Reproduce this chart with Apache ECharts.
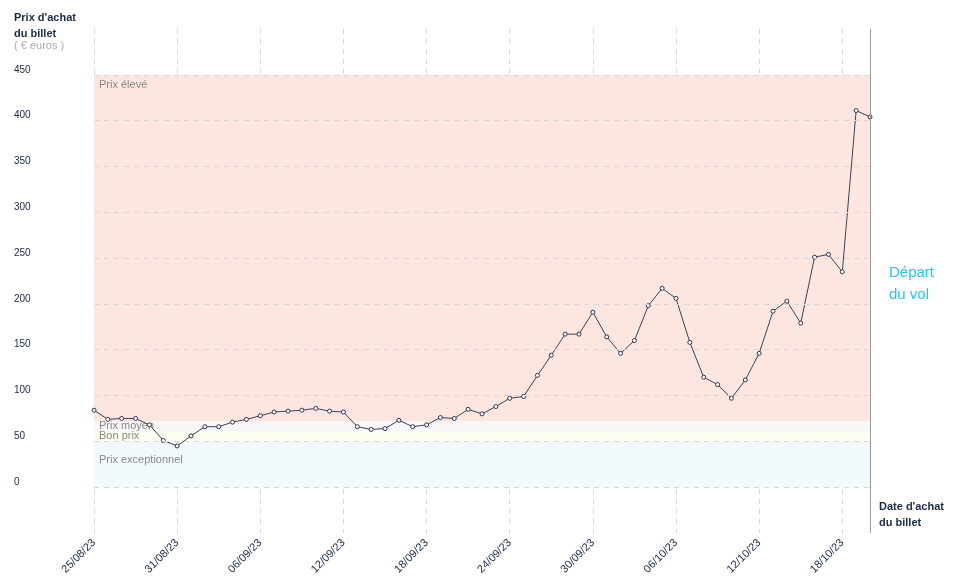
<!DOCTYPE html><html><head><meta charset="utf-8"><script src="https://cdn.jsdelivr.net/npm/echarts@6/dist/echarts.min.js"></script></head><body style="margin:0"><div id="c" style="width:958px;height:585px"></div><script>
const startDate=[2023,7,25];
const prices=[84,74,75,75,68,51,45,56,66,66,71,74,78,82,83,84,86,83,82,66,63,64,73,66,68,76,75,85,80,88,97,99,122,144,167,167,191,164,146,160,198,217,206,158,120,112,97,117,146,192,203,179,251,254,235,411,404];
const bands=[{name:'Prix exceptionnel',from:0,to:50,color:'#f3fafd'},{name:'Bon prix',from:50,to:61,color:'#fdfdf1'},{name:'Prix moyen',from:61,to:72,color:'#f7f7f8'},{name:'Prix élevé',from:72,to:450,color:'#fde6df'}];
const yTicks=[0,50,100,150,200,250,300,350,400,450];
const dates=prices.map((_,i)=>{const d=new Date(startDate[0],startDate[1],startDate[2]+i);return String(d.getDate()).padStart(2,'0')+'/'+String(d.getMonth()+1).padStart(2,'0')+'/23';});
const ch=echarts.init(document.getElementById('c'));
const font='Liberation Sans';
ch.setOption({animation:false,textStyle:{fontFamily:font},
grid:{left:94,right:88,top:29,bottom:52},
xAxis:{type:'category',data:dates,boundaryGap:false,axisLine:{show:false},axisTick:{show:false},
 axisLabel:{interval:5,rotate:45,color:'#1a2a44',fontSize:11,margin:8},
 splitLine:{show:true,interval:5,lineStyle:{color:'#d8d8d8',type:[5,5]}}},
yAxis:{type:'value',min:-50,max:500,interval:50,splitLine:{show:false},axisLine:{show:false},axisTick:{show:false},
 axisLabel:{formatter:v=>(v<0||v>450)?'':v,color:'#1a2a44',fontSize:10,align:'left',margin:80,verticalAlign:'bottom'}},
series:[{type:'line',data:prices,symbol:'circle',symbolSize:4,lineStyle:{color:'#3a4256',width:1},itemStyle:{color:'#fff',borderColor:'#2a3450',borderWidth:1},
 markArea:{silent:true,data:bands.map((b,i)=>[{yAxis:b.from,name:b.name,itemStyle:{color:b.color},label:{position:'insideTopLeft',offset:[0,i==0?8:i==3?0:-6],color:'#888',fontSize:11}},{yAxis:b.to}])},
 markLine:{silent:true,symbol:'none',label:{show:false},data:[...yTicks.map(v=>({yAxis:v,lineStyle:{color:'#d8d8d8',type:[5,5],width:1}})),{xAxis:dates[dates.length-1],lineStyle:{color:'#999',type:'solid',width:1}}]}}],
graphic:[
 {type:'text',left:14,top:10,style:{text:"Prix d'achat\ndu billet",font:'bold 11px '+font,fill:'#1a2a44',lineHeight:16}},
 {type:'text',left:14,top:40,style:{text:'( € euros )',font:'11px '+font,fill:'#aaa'}},
 {type:'text',left:889,top:262,style:{text:'Départ\ndu vol',font:'15px '+font,fill:'#29c4e8',lineHeight:22}},
 {type:'text',left:879,top:499,style:{text:"Date d'achat\ndu billet",font:'bold 11px '+font,fill:'#1a2a44',lineHeight:16}}
]});
</script></body></html>
